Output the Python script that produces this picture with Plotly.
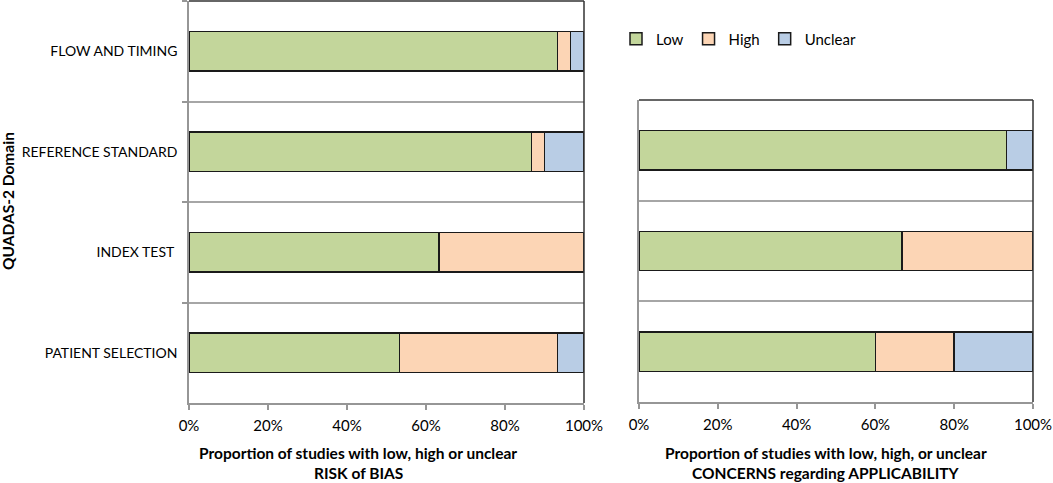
import plotly.graph_objs as go

# QUADAS-2 summary, percent of studies
domains = ["FLOW AND TIMING", "REFERENCE STANDARD", "INDEX TEST\u00a0", "PATIENT SELECTION"]
bias_low = [93.3, 86.7, 63.3, 53.3]
bias_high = [3.3, 3.3, 36.7, 40.0]
bias_unclear = [3.3, 10.0, 0.0, 6.7]

appl_domains = domains[1:]
appl_low = [93.3, 66.7, 60.0]
appl_high = [0.0, 33.3, 20.0]
appl_unclear = [6.7, 0.0, 20.0]

x_ticks = [0, 20, 40, 60, 80, 100]
x_labels = ["0%", "20%", "40%", "60%", "80%", "100%"]

colours = {"Low": "#C3D69B", "High": "#FCD5B5", "Unclear": "#B9CDE5"}

W, H = 1053, 483
FONT = "Lato"


def px_x(v):
    return v / W


def px_y(v):
    return 1 - v / H


def bar(name, x, y, xa, ya, legend):
    return go.Bar(x=x, y=y, name=name, orientation="h", xaxis=xa, yaxis=ya,
                  marker=dict(color=colours[name], line=dict(color="#1a1a1a", width=1.5)),
                  showlegend=legend, hoverinfo="x+y")


fig = go.Figure()
for name, vals in (("Low", bias_low), ("High", bias_high), ("Unclear", bias_unclear)):
    fig.add_trace(bar(name, vals, domains, "x", "y", True))
for name, vals in (("Low", appl_low), ("High", appl_high), ("Unclear", appl_unclear)):
    fig.add_trace(bar(name, vals, appl_domains, "x2", "y2", False))

xaxis_common = dict(range=[0, 100], tickmode="array", tickvals=x_ticks, ticktext=x_labels,
                    showgrid=False, showline=True, linecolor="#969696", linewidth=1.5,
                    ticks="outside", ticklen=5, tickcolor="#969696", tickwidth=1.5,
                    zeroline=False, ticklabelstandoff=3, automargin=False,
                    tickfont=dict(family=FONT, size=15, color="#000"), fixedrange=True)
yaxis_common = dict(type="category", categoryorder="array", tickson="boundaries",
                    showgrid=True, gridcolor="#A6A6A6", gridwidth=1.5, showline=True,
                    linecolor="#969696", linewidth=1.5, zeroline=False, fixedrange=True,
                    automargin=False, tickfont=dict(family=FONT, size=14, color="#000"))

fig.update_layout(
    width=W, height=H,
    margin=dict(l=0, r=0, t=0, b=0, autoexpand=False),
    paper_bgcolor="white", plot_bgcolor="white",
    barmode="stack", bargap=0.61,
    font=dict(family=FONT, size=14, color="#000"),
    xaxis=dict(domain=[px_x(189), px_x(584)], anchor="y", **xaxis_common),
    yaxis=dict(domain=[px_y(403), px_y(1)], anchor="x", categoryarray=domains[::-1],
               ticks="outside", ticklen=5, tickcolor="#969696", tickwidth=1.5,
               ticklabelstandoff=7, **yaxis_common),
    xaxis2=dict(domain=[px_x(639), px_x(1033)], anchor="y2", **xaxis_common),
    yaxis2=dict(domain=[px_y(402), px_y(100)], anchor="x2", categoryarray=appl_domains[::-1],
                ticks="", showticklabels=False, **yaxis_common),
    legend=dict(orientation="h", x=px_x(616), y=px_y(39), xanchor="left", yanchor="middle",
                itemwidth=30, font=dict(family=FONT, size=15, color="#000"),
                bgcolor="rgba(0,0,0,0)", traceorder="normal"),
    showlegend=True,
)

# dark top and right frame lines of both plot areas
for xa, ya in (("x", "y"), ("x2", "y2")):
    fig.add_shape(type="line", xref=xa + " domain", yref=ya + " domain", x0=0, x1=1, y0=1, y1=1,
                  line=dict(color="#333333", width=1.5))
    fig.add_shape(type="line", xref=xa + " domain", yref=ya + " domain", x0=1, x1=1, y0=0, y1=1,
                  line=dict(color="#333333", width=1.5))

title_font = dict(family=FONT, size=15.5, color="#000", weight="bold")
fig.add_annotation(text="QUADAS-2 Domain", textangle=-90, x=px_x(8), y=px_y(201),
                   xref="paper", yref="paper", xanchor="center", yanchor="middle",
                   showarrow=False, font=title_font)

# x titles, one annotation per line so the second line stays inside the page
x_titles = [
    (358, "Proportion of studies with low, high or unclear", "RISK of BIAS"),
    (826, "Proportion of studies with low, high, or unclear", "CONCERNS regarding APPLICABILITY"),
]
for cx, line1, line2 in x_titles:
    fig.add_annotation(text=line2, x=px_x(cx), y=0, xref="paper", yref="paper",
                       xanchor="center", yanchor="bottom", borderpad=0, showarrow=False,
                       font=title_font)
    fig.add_annotation(text=line1, x=px_x(cx), y=px_y(463), xref="paper", yref="paper",
                       xanchor="center", yanchor="bottom", borderpad=0, showarrow=False,
                       font=title_font)

# page body has a default 8px margin; drop it so the figure sits at the window corner
fig.write_html("out.html", config={"displayModeBar": False},
               post_script="document.body.style.margin='0px';")
